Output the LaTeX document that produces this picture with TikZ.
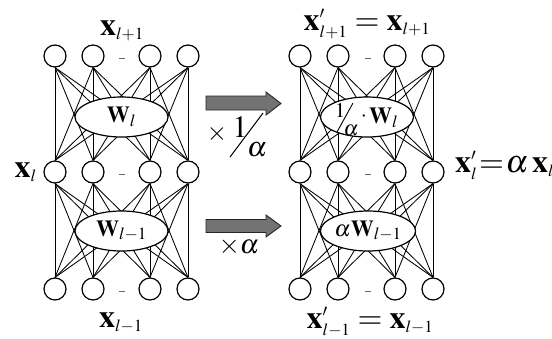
\documentclass[tikz,border=0pt]{standalone}
\usepackage{mathptmx}
\DeclareMathSizes{32}{32}{17}{12}
\usetikzlibrary{shapes.geometric}
\begin{document}
\begin{tikzpicture}[x=1pt,y=-1pt,
 neuron/.style={circle,draw,line width=1.2pt,minimum size=22pt,inner sep=0pt,fill=white},
 wbox/.style={ellipse,draw,line width=1.2pt,fill=white,minimum width=93pt,minimum height=40pt,inner sep=0pt,font=\fontsize{23}{26}\selectfont},
 conn/.style={line width=0.85pt},
 lbl/.style={inner sep=0pt,font=\fontsize{32}{36}\selectfont},
 small/.style={inner sep=0pt},
 fat/.style={fill=black!55,draw=black!85,line width=0.9pt},
 dots/.style={line width=0.9pt,black!60}]
\useasboundingbox (0,0) rectangle (552,338);
% neurons
\foreach \n/\x in {1/55,2/93,3/150,4/188}{
  \node[neuron] (La\n) at (\x,56) {};
  \node[neuron] (Lb\n) at (\x,172) {};
  \node[neuron] (Lc\n) at (\x,289) {};
}
\foreach \n/\x in {1/300,2/338,3/395,4/433}{
  \node[neuron] (Ra\n) at (\x,56) {};
  \node[neuron] (Rb\n) at (\x,172) {};
  \node[neuron] (Rc\n) at (\x,289) {};
}
% connections
\foreach \i in {1,...,4}{
  \foreach \j in {1,...,4}{
    \draw[conn] (La\i.south) -- (Lb\j.north);
    \draw[conn] (Lb\i.south) -- (Lc\j.north);
    \draw[conn] (Ra\i.south) -- (Rb\j.north);
    \draw[conn] (Rb\i.south) -- (Rc\j.north);
  }
}
% small dashes between neurons
\foreach \x in {121.5,367.5}{
  \foreach \y in {58,174,291}{
    \draw[dots] (\x-3,\y) -- (\x+3,\y);
  }
}
% weight ellipses
\node[wbox] (WL1) at (121.5,117) {$\mathbf{W}_l$};
\node[wbox] (WL2) at (121.5,231) {$\mathbf{W}_{l-1}$};
\node[wbox] (WR1) at (367,117) {};
\node[wbox] (WR2) at (368,231) {$\alpha\mathbf{W}_{l-1}$};
% content of right upper ellipse
\node[small,font=\fontsize{21}{24}\selectfont] (r1) at (340,110.5) {$1$};
\draw[line width=0.9pt] (337,132) -- (353,103);
\node[small,font=\fontsize{21}{24}\selectfont] (ra) at (351,130) {$\alpha$};
\node[small,font=\fontsize{22}{24}\selectfont] (rd) at (364,117) {$\cdot$};
\node[small,font=\fontsize{23}{26}\selectfont,anchor=west] (rw) at (369,118) {$\mathbf{W}_l$};
% labels
\node[lbl,anchor=base] (xt) at (122,35) {$\mathbf{x}_{l+1}$};
\node[lbl,anchor=base east] (xm) at (37,177) {$\mathbf{x}_l$};
\node[lbl,anchor=base] (xb) at (121,327) {$\mathbf{x}_{l-1}$};
\node[lbl,anchor=base] (yt) at (367,30) {$\mathbf{x}'_{l+1}=\mathbf{x}_{l+1}$};
\node[lbl,anchor=base west] (ym) at (455,172) {$\mathbf{x}'_l\mskip-3mu=\mskip-3mu\alpha\mskip2mu\mathbf{x}_l$};
\node[lbl,anchor=base] (yb) at (370,328) {$\mathbf{x}'_{l-1}=\mathbf{x}_{l-1}$};
% fat arrows
\draw[fat] (206,96) -- (266,96) -- (266,92) -- (281,103.5) -- (266,115) -- (266,110) -- (206,110) -- cycle;
\draw[fat] (206,219.5) -- (266,219.5) -- (266,215) -- (281,226) -- (266,237) -- (266,232.5) -- (206,232.5) -- cycle;
% arrow factors
\node[small,font=\fontsize{26}{30}\selectfont] (t1) at (217,134) {$\times$};
\node[small,font=\fontsize{31}{34}\selectfont] (t2) at (240,127) {$1$};
\draw[line width=1pt] (230,157) -- (263,113);
\node[small,font=\fontsize{28}{30}\selectfont] (t3) at (257,150) {$\alpha$};
\node[small,font=\fontsize{27}{30}\selectfont] (b1) at (239,247) {$\times\alpha$};
\end{tikzpicture}
\end{document}
